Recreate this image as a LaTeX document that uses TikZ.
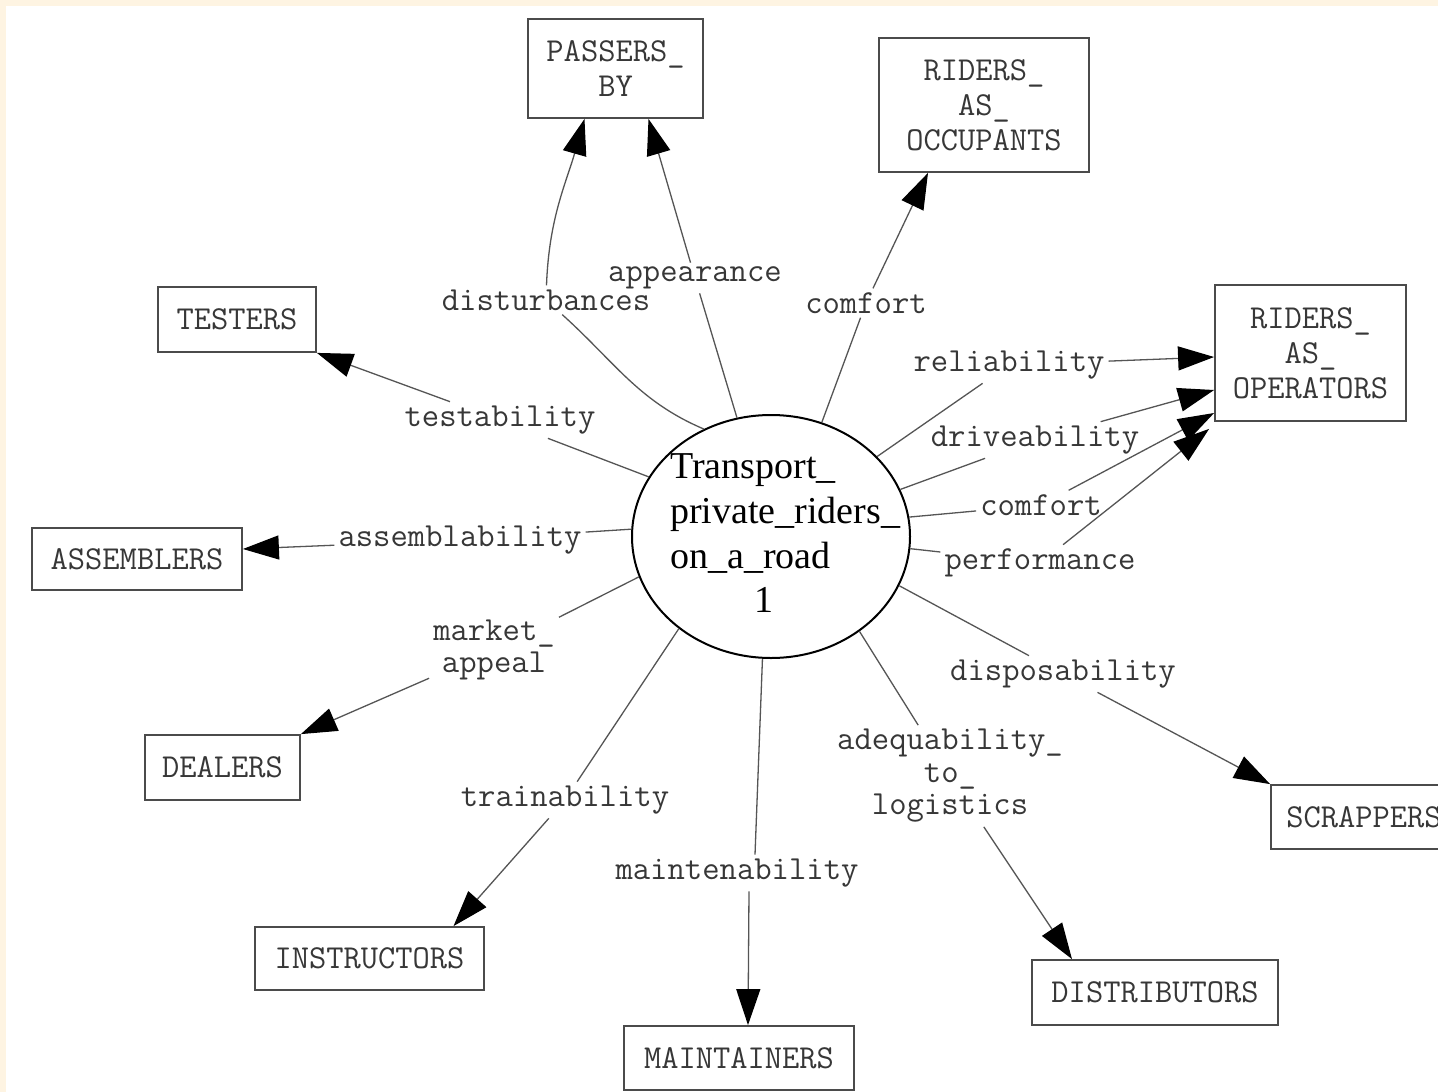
\documentclass[tikz,border=0pt]{standalone}
\usepackage{fontspec}
\usetikzlibrary{arrows.meta,shapes.geometric}
\newfontfamily\hubfont{Liberation Serif}
\definecolor{creamBg} {RGB}{254,244,226}
\definecolor{lineGray}{RGB}{85,85,85}
\definecolor{boxGray} {RGB}{75,75,75}
\definecolor{textGray}{RGB}{55,55,55}

\begin{document}
\begin{tikzpicture}[x=1pt,y=1pt,
          ator/.style={draw=boxGray,line width=1.8pt,inner sep=0pt,align=center,
                       text=textGray,font=\ttfamily\fontsize{33.5}{35}\selectfont},
          rot/.style={inner sep=4pt,align=center,text=textGray,
                      font=\ttfamily\fontsize{33.7}{32.5}\selectfont},
          hub/.style={ellipse,draw=black,line width=2pt,inner sep=0pt,
                      minimum width=278pt,minimum height=243pt},
          hubtxt/.style={inner sep=0pt,align=left,
                         font=\hubfont\fontsize{38}{45.4}\selectfont},
          lnk/.style={draw=lineGray,line width=1.3pt},
          arr/.style={lnk,-{Triangle[length=36pt,width=24pt,color=black]}},
        ]
        % Fundo
        \useasboundingbox (0,0) rectangle (1438,-1092);
        \fill[creamBg] (0,0) rectangle (1438,-1092);
        \fill[white] (6,-6) rectangle (1438,-1092);
        \clip (0,0) rectangle (1438,-1092);

        % Funcao central
        \node[hub] (hub) at (771,-536.5) {};
        \node[hubtxt,anchor=north west] (hubTxt) at (670,-453)
             {Transport\_\\private\_riders\_\\on\_a\_road};
        \node[hubtxt] (hubNo) at (763.5,-600) {1};

        % Atores
        \node[ator,minimum width=175pt,minimum height=99pt]  (pby)  at (615.5,-68.5) {PASSERS\_\\BY};
        \node[ator,minimum width=210pt,minimum height=134pt] (rocc) at (984,-105)    {RIDERS\_\\AS\_\\OCCUPANTS};
        \node[ator,minimum width=158pt,minimum height=65pt]  (tst)  at (237,-319.5)  {TESTERS};
        \node[ator,minimum width=191pt,minimum height=136pt] (ropr) at (1310.5,-353) {RIDERS\_\\AS\_\\OPERATORS};
        \node[ator,minimum width=210pt,minimum height=62pt]  (asm)  at (137,-559)    {ASSEMBLERS};
        \node[ator,minimum width=155pt,minimum height=65pt]  (dlr)  at (222.5,-767.5){DEALERS};
        \node[ator,minimum width=186pt,minimum height=64pt]  (scr)  at (1364,-817)   {SCRAPPERS};
        \node[ator,minimum width=229pt,minimum height=63pt]  (ins)  at (369.5,-958.5){INSTRUCTORS};
        \node[ator,minimum width=230pt,minimum height=64pt]  (mnt)  at (739,-1058)   {MAINTAINERS};
        \node[ator,minimum width=246pt,minimum height=65pt]  (dst)  at (1155,-992.5) {DISTRIBUTORS};

        % Rotulos
        \node[rot] (lDist) at (546,-300)  {disturbances};
        \node[rot] (lAppr) at (695,-278)  {appearance};
        \node[rot] (lCmfA) at (866,-303)  {comfort};
        \node[rot] (lTest) at (500,-420)  {testability};
        \node[rot] (lRel)  at (1009,-365) {reliability};
        \node[rot] (lDrv)  at (1035,-440) {driveability};
        \node[rot] (lCmfB) at (1041,-505) {comfort};
        \node[rot] (lPerf) at (1040,-563) {performance};
        \node[rot] (lAsm)  at (460,-540)  {assemblability};
        \node[rot] (lMkt)  at (494,-650)  {market\_\\appeal};
        \node[rot] (lDsp)  at (1063,-674) {disposability};
        \node[rot] (lAdq)  at (950,-776)  {adequability\_\\to\_\\logistics};
        \node[rot] (lTrn)  at (565,-800)  {trainability};
        \node[rot] (lMnt)  at (737,-873)  {maintenability};

        % Pontas
        \coordinate (tDist) at ([xshift=-31pt]pby.south);
        \coordinate (tAppr) at ([xshift=33pt]pby.south);
        \coordinate (tCmfA) at ([xshift=-56pt]rocc.south);
        \coordinate (tTest) at (tst.south east);
        \coordinate (tAsm)  at ([yshift=10pt]asm.east);
        \coordinate (tMkt)  at (dlr.north east);
        \coordinate (tTrn)  at ([xshift=84pt]ins.north);
        \coordinate (tMnt)  at ([xshift=9pt]mnt.north);
        \coordinate (tAdq)  at ([xshift=-83pt]dst.north);
        \coordinate (tDsp)  at (scr.north west);
        \coordinate (tRel)  at ([yshift=-4pt]ropr.west);
        \coordinate (tDrv)  at ([yshift=-37pt]ropr.west);
        \coordinate (tCmfB) at ([yshift=-60pt]ropr.west);
        \coordinate (tPerf) at ([xshift=-5pt,yshift=-7pt]ropr.south west);

        % Fluxos
        \foreach \a/\l/\t in {106/lAppr/tAppr,66/lCmfA/tCmfA,154/lTest/tTest,
                              177/lAsm/tAsm,197/lMkt/tMkt,225/lTrn/tTrn,
                              313/lAdq/tAdq,339/lDsp/tDsp,355/lPerf/tPerf,
                              8/lCmfB/tCmfB,20/lDrv/tDrv,37/lRel/tRel}{
          \draw[arr] (hub.\a) -- (\l) -- (\t);
        }
        \draw[lnk] (hub.266) -- ([xshift=18pt]lMnt.north);
        \draw[arr] ([xshift=12pt]lMnt.south) -- (tMnt);
        \draw[lnk] (hub.122) to[out=157,in=-42] (lDist);
        \draw[arr] (lDist) to[out=88,in=-106] (tDist);
      \end{tikzpicture}
\end{document}
